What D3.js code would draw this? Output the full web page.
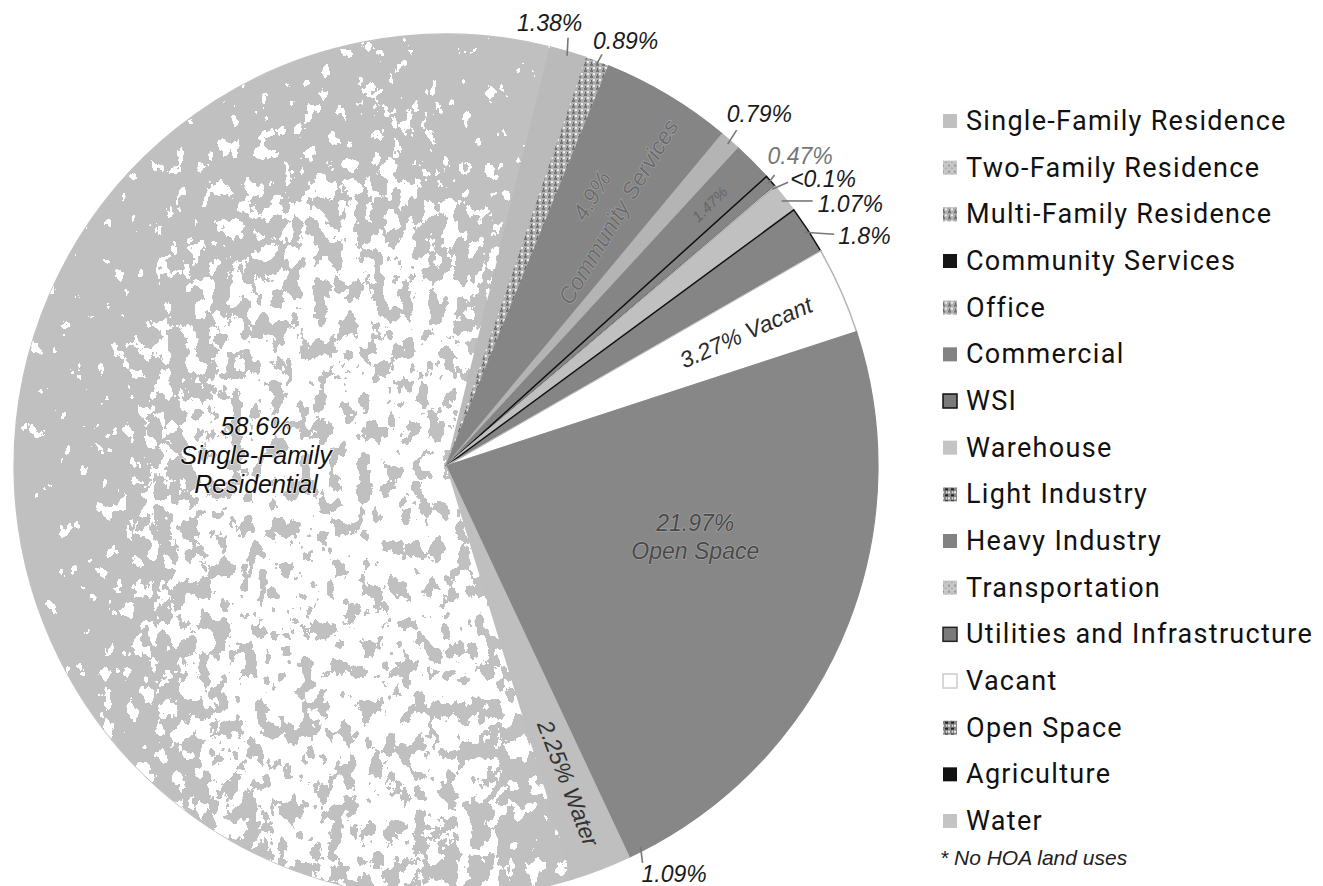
<!DOCTYPE html>
<html>
<head>
<meta charset="utf-8">
<script src="https://cdn.jsdelivr.net/npm/d3@7"></script>
<style>
  body { margin: 0; background: #fff; }
  svg { display: block; }
</style>
</head>
<body>
<svg id="chart" width="1323" height="886"></svg>
<script>
// land use shares (%), in the order the pie is drawn (clockwise)
const categories = ['Single-Family Residence', 'Two-Family Residence', 'Multi-Family Residence',
  'Community Services', 'Office', 'Commercial', 'WSI', 'Warehouse', 'Light Industry',
  'Heavy Industry', 'Transportation', 'Utilities and Infrastructure', 'Vacant',
  'Open Space', 'Agriculture', 'Water'];
const values = [58.6, 1.38, 0.89, 4.9, 0.79, 1.47, 0.47, 0.05, 0, 0, 1.07, 1.8, 3.27, 21.97, 1.09, 2.25];
const sliceLabels = ['58.6%|Single-Family|Residential', '1.38%', '0.89%', '4.9%|Community Services',
  '0.79%', '1.47%', '0.47%', '<0.1%', '', '', '1.07%', '1.8%', '3.27% Vacant',
  '21.97%|Open Space', '1.09%', '2.25% Water'];
const footnote = '* No HOA land uses';

// styles
const sliceFill = ['#c0c0c0', '#bababa', 'url(#mix)', '#858585', '#b4b4b4', '#858585', '#858585',
  '#c0c0c0', '#888', '#858585', '#c0c0c0', '#858585', '#ffffff', '#878787', '#878787', '#bfbfbf'];
const sliceStroke = [null, null, null, null, null, null, '#111', null, null, null, null, '#111',
  '#b5b5b5', null, null, null];
const swatchFill = ['#c0c0c0', 'url(#speckLight)', 'url(#mix)', '#151515', 'url(#mix)', '#828282',
  '#7a7a7a', '#c4c4c4', 'url(#mixDark)', '#828282', 'url(#speckLight)', '#7a7a7a', '#fff',
  'url(#mixDark)', '#111', '#c4c4c4'];
const swatchStroke = [null, null, null, null, null, null, '#111', null, null, null, null, '#222',
  '#ccc', null, null, null];

// outside labels: leader line vector and text offset (relative to line end)
const outside = {
  1: {line: [1, -18], text: [-51, -7]},
  2: {line: [6, -11], text: [-9, -5]},
  4: {line: [9, -14], text: [-10, -8]},
  6: {line: [7, -9], text: [-7, -11], color: '#777'},
  7: {line: [16, -7], text: [2, 5]},
  10: {line: [31, 0], text: [5, 11]},
  11: {line: [30, 2], text: [4, 10]},
  14: {line: [2, 16], text: [-1, 19]}
};

const cx = 446, cy = 466, R = 432;
const startDeg = 163;
const svg = d3.select('#chart');
const defs = svg.append('defs');

// small texture patterns
function pattern(id, base, dots, size){
  const p = defs.append('pattern').attr('id', id).attr('patternUnits', 'userSpaceOnUse')
    .attr('width', size).attr('height', size);
  p.append('rect').attr('width', size).attr('height', size).attr('fill', base);
  dots.forEach(d => p.append('rect').attr('x', d[0]).attr('y', d[1]).attr('width', d[2]).attr('height', d[3]).attr('fill', d[4]));
}
pattern('speckLight', '#c6c6c6', [[0, 0, 2, 2, '#999'], [3, 3, 2, 1, '#a5a5a5']], 6);
pattern('mix', '#b0b0b0', [[0, 0, 3, 2, '#777'], [3, 3, 2, 2, '#eee'], [1, 4, 1, 2, '#666']], 6);
pattern('mixDark', '#888', [[0, 0, 2, 2, '#eee'], [3, 3, 3, 2, '#222'], [4, 0, 1, 2, '#ddd']], 6);

// weight for the map texture: whiter in a tall band through the middle of the residential slice
const wg = defs.append('radialGradient').attr('id', 'weight')
  .attr('gradientUnits', 'userSpaceOnUse')
  .attr('cx', 350).attr('cy', 560).attr('r', 420)
  .attr('gradientTransform', 'translate(350,560) scale(0.7,1.35) translate(-350,-560)');
wg.append('stop').attr('offset', 0).attr('stop-color', '#fff');
wg.append('stop').attr('offset', 0.5).attr('stop-color', '#e0e0e0');
wg.append('stop').attr('offset', 1).attr('stop-color', '#202020');

// noise mask that mimics the map texture in the residential slice
const blot = defs.append('filter').attr('id', 'blot')
  .attr('filterUnits', 'userSpaceOnUse')
  .attr('x', 0).attr('y', 0).attr('width', 900).attr('height', 886)
  .attr('color-interpolation-filters', 'sRGB');
blot.append('feTurbulence').attr('type', 'fractalNoise').attr('baseFrequency', '0.07 0.05')
  .attr('numOctaves', 4).attr('seed', 11).attr('result', 'noise');
blot.append('feColorMatrix').attr('in', 'noise').attr('type', 'matrix')
  .attr('values', '0 0 0 0 1  0 0 0 0 1  0 0 0 0 1  1 0 0 0 0').attr('result', 'na');
blot.append('feColorMatrix').attr('in', 'SourceGraphic').attr('type', 'matrix')
  .attr('values', '0 0 0 0 1  0 0 0 0 1  0 0 0 0 1  1 0 0 0 0').attr('result', 'ga');
blot.append('feComposite').attr('in', 'na').attr('in2', 'ga').attr('operator', 'arithmetic')
  .attr('k1', 0).attr('k2', 1).attr('k3', 0.4).attr('k4', -0.3).attr('result', 'sum');
blot.append('feComponentTransfer').attr('in', 'sum')
  .append('feFuncA').attr('type', 'discrete')
  .attr('tableValues', '0 0 0 0 0 0 0 0 0 0 1 1 1 1 1 1 1 1 1 1');
blot.append('feColorMatrix').attr('type', 'matrix')
  .attr('values', '0 0 0 0 1  0 0 0 0 1  0 0 0 0 1  0 0 0 1 0');

const pie = d3.pie().sort(null).value(d => d)
  .startAngle(startDeg * Math.PI / 180).endAngle(startDeg * Math.PI / 180 + 2 * Math.PI);
const arcs = pie(values);
const arc = d3.arc().innerRadius(0).outerRadius(R);

function pt(a, f){
  return [cx + f * R * Math.sin(a), cy - f * R * Math.cos(a)];
}

const g = svg.append('g').attr('transform', `translate(${cx},${cy})`);

defs.append('clipPath').attr('id', 'sfClip')
  .append('path').attr('d', arc(arcs[0])).attr('transform', `translate(${cx},${cy})`);

g.selectAll('path.slice')
  .data(arcs)
  .join('path')
    .attr('class', 'slice')
    .attr('d', arc)
    .attr('fill', (d, i) => sliceFill[i])
    .attr('stroke', (d, i) => sliceStroke[i] || (sliceFill[i].startsWith('url') ? 'none' : sliceFill[i]))
    .attr('stroke-width', (d, i) => sliceStroke[i] ? 1.5 : 1.2);

// white blotches over the residential slice
svg.append('rect')
  .attr('x', 0).attr('y', 0).attr('width', 900).attr('height', 886)
  .attr('fill', 'url(#weight)')
  .attr('filter', 'url(#blot)')
  .attr('clip-path', 'url(#sfClip)');

const labelFont = '"Liberation Sans", Arial, sans-serif';

// inside labels
function insideLabel(i, f, frac, opts){
  const d = arcs[i];
  const a = d.startAngle + (d.endAngle - d.startAngle) * frac;
  const p = pt(a, f);
  const rot = opts.radial ? a * 180 / Math.PI - 90 : 0;
  const lines = sliceLabels[i].split('|');
  const t = svg.append('text')
    .attr('transform', `translate(${p[0]},${p[1]}) rotate(${rot})`)
    .attr('text-anchor', 'middle')
    .attr('font-family', labelFont)
    .attr('font-style', 'italic')
    .attr('font-size', opts.size)
    .attr('fill', opts.fill);
  if(opts.halo)
    t.attr('stroke', opts.halo).attr('stroke-width', 1.2).attr('paint-order', 'stroke');
  lines.forEach((s, k) => {
    t.append('tspan').attr('x', 0).attr('y', opts.y0 + k * opts.gap).text(s);
  });
}

insideLabel(0, 0.44, 0.5, {size: 25, fill: '#111', halo: '#fff', y0: -36, gap: 29});
insideLabel(13, 0.6, 0.43, {size: 23, fill: '#4a4a4a', halo: '#a8a8a8', y0: -6, gap: 28});
insideLabel(12, 0.76, 0.5, {size: 23, fill: '#2a2a2a', radial: true, y0: 8, gap: 0});
insideLabel(15, 0.787, 0.5, {size: 23, fill: '#333', radial: true, y0: 8, gap: 0});
insideLabel(3, 0.71, 0.5, {size: 23, fill: '#6c6c6c', halo: '#a5a5a5', radial: true, y0: -6, gap: 31});
insideLabel(5, 0.86, 0.5, {size: 15, fill: '#666', radial: true, y0: 5, gap: 0});

// outside labels with leader lines
Object.keys(outside).forEach(k => {
  const i = +k, o = outside[k], d = arcs[i];
  const a = (d.startAngle + d.endAngle) / 2;
  const p0 = pt(a, 0.99);
  const p1 = [p0[0] + o.line[0], p0[1] + o.line[1]];
  svg.append('line')
    .attr('x1', p0[0]).attr('y1', p0[1]).attr('x2', p1[0]).attr('y2', p1[1])
    .attr('stroke', '#777').attr('stroke-width', 1.6);
  svg.append('text')
    .attr('x', p1[0] + o.text[0]).attr('y', p1[1] + o.text[1])
    .attr('font-family', labelFont)
    .attr('font-style', 'italic')
    .attr('font-size', 23)
    .attr('fill', o.color || '#1a1a1a')
    .text(sliceLabels[i]);
});

// legend
const rowY = d3.scalePoint().domain(categories).range([130, 830]);
const legend = svg.append('g');
const rows = legend.selectAll('g')
  .data(categories)
  .join('g')
    .attr('transform', d => `translate(0,${rowY(d)})`);
rows.append('rect')
  .attr('x', 943).attr('y', -16).attr('width', 14).attr('height', 14)
  .attr('fill', (d, i) => swatchFill[i])
  .attr('stroke', (d, i) => swatchStroke[i] || 'none')
  .attr('stroke-width', 1.5);
rows.append('text')
  .attr('x', 966).attr('y', 0)
  .attr('font-family', 'Roboto, sans-serif')
  .attr('font-size', 27)
  .attr('letter-spacing', 1.3)
  .attr('fill', '#111')
  .text(d => d);

svg.append('text')
  .attr('x', 940).attr('y', 865)
  .attr('font-family', labelFont)
  .attr('font-style', 'italic')
  .attr('font-size', 21)
  .attr('fill', '#222')
  .text(footnote);
</script>
</body>
</html>
